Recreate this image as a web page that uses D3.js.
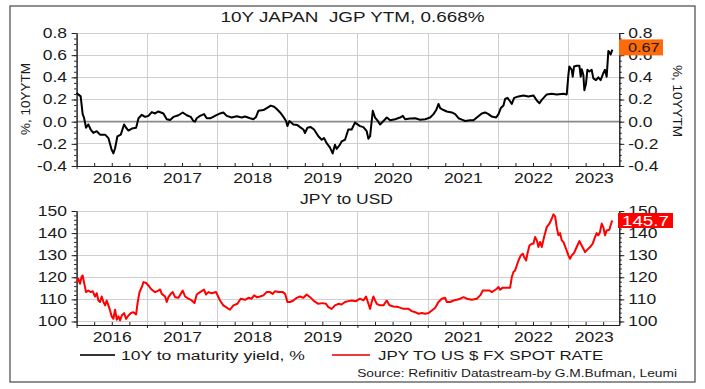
<!DOCTYPE html>
<html>
<head>
<meta charset="utf-8">
<script src="https://cdnjs.cloudflare.com/ajax/libs/d3/7.8.5/d3.min.js"></script>
<style>
  body { margin: 0; background: #fff; }
  svg { display: block; font-family: "Liberation Sans", Arial, sans-serif; }
</style>
</head>
<body>
<div id="chart"></div>
<script>
// dates are decimal years
const jgbDates = [
  2016.000, 2016.058, 2016.086, 2016.105, 2016.134, 2016.167, 2016.200, 2016.238, 2016.286, 2016.333,
  2016.405, 2016.452, 2016.499, 2016.523, 2016.547, 2016.580, 2016.628, 2016.675, 2016.704, 2016.737,
  2016.785, 2016.846, 2016.880, 2016.927, 2016.974, 2017.021, 2017.069, 2017.116, 2017.163, 2017.235,
  2017.282, 2017.330, 2017.377, 2017.449, 2017.510, 2017.567, 2017.624, 2017.662, 2017.686, 2017.709,
  2017.757, 2017.814, 2017.852, 2017.909, 2017.970, 2018.042, 2018.089, 2018.137, 2018.208, 2018.280,
  2018.351, 2018.398, 2018.470, 2018.517, 2018.555, 2018.588, 2018.660, 2018.708, 2018.765, 2018.812,
  2018.850, 2018.898, 2018.945, 2018.983, 2019.002, 2019.030, 2019.087, 2019.144, 2019.182, 2019.230,
  2019.253, 2019.287, 2019.334, 2019.382, 2019.443, 2019.491, 2019.524, 2019.562, 2019.609, 2019.647,
  2019.680, 2019.704, 2019.742, 2019.775, 2019.823, 2019.870, 2019.918, 2019.965, 2020.037, 2020.085,
  2020.132, 2020.156, 2020.180, 2020.203, 2020.218, 2020.251, 2020.284, 2020.322, 2020.370, 2020.417,
  2020.465, 2020.536, 2020.607, 2020.645, 2020.678, 2020.750, 2020.821, 2020.892, 2020.963, 2021.034,
  2021.082, 2021.120, 2021.153, 2021.177, 2021.224, 2021.272, 2021.343, 2021.391, 2021.438, 2021.486,
  2021.533, 2021.604, 2021.652, 2021.699, 2021.770, 2021.818, 2021.865, 2021.913, 2021.975, 2022.008,
  2022.041, 2022.079, 2022.103, 2022.136, 2022.165, 2022.198, 2022.231, 2022.293, 2022.364, 2022.435,
  2022.506, 2022.554, 2022.592, 2022.625, 2022.696, 2022.767, 2022.838, 2022.933, 2022.981, 2023.004,
  2023.018, 2023.052, 2023.066, 2023.085, 2023.123, 2023.161, 2023.180, 2023.194, 2023.218, 2023.232,
  2023.256, 2023.275, 2023.303, 2023.336, 2023.360, 2023.398, 2023.431, 2023.464, 2023.502, 2023.526,
  2023.550, 2023.574, 2023.588, 2023.607, 2023.631
];
const jgbYield = [
  0.258, 0.228, 0.068, 0.037, -0.055, -0.025, -0.071, -0.102, -0.086, -0.117,
  -0.117, -0.148, -0.255, -0.286, -0.240, -0.132, -0.117, -0.025, -0.055, -0.080,
  -0.062, -0.055, 0.031, 0.062, 0.043, 0.052, 0.086, 0.074, 0.092, 0.074,
  0.022, 0.015, 0.043, 0.058, 0.083, 0.058, 0.043, 0.006, 0.000, 0.031,
  0.052, 0.068, 0.031, 0.031, 0.052, 0.074, 0.083, 0.052, 0.037, 0.049,
  0.037, 0.046, 0.031, 0.022, 0.043, 0.098, 0.105, 0.123, 0.145, 0.135,
  0.114, 0.083, 0.043, 0.006, -0.040, 0.006, -0.025, -0.031, -0.049, -0.071,
  -0.102, -0.055, -0.049, -0.071, -0.132, -0.163, -0.148, -0.194, -0.234, -0.286,
  -0.209, -0.246, -0.215, -0.178, -0.163, -0.071, -0.071, -0.009, -0.040, -0.049,
  -0.086, -0.154, -0.132, 0.006, 0.098, 0.037, 0.012, -0.025, 0.006, 0.037,
  0.012, 0.022, 0.037, 0.052, 0.022, 0.028, 0.031, 0.018, 0.022, 0.037,
  0.068, 0.105, 0.160, 0.123, 0.105, 0.092, 0.083, 0.068, 0.031, 0.018,
  0.006, 0.012, 0.012, 0.037, 0.074, 0.083, 0.068, 0.046, 0.037, 0.068,
  0.123, 0.145, 0.206, 0.215, 0.191, 0.160, 0.215, 0.228, 0.237, 0.228,
  0.237, 0.191, 0.166, 0.197, 0.246, 0.252, 0.246, 0.252, 0.246, 0.420,
  0.498, 0.468, 0.406, 0.498, 0.505, 0.505, 0.406, 0.474, 0.420, 0.283,
  0.345, 0.468, 0.452, 0.468, 0.391, 0.375, 0.400, 0.375, 0.437, 0.468,
  0.406, 0.637, 0.628, 0.606, 0.650
];
const fxDates = [
  2016.000, 2016.025, 2016.048, 2016.072, 2016.086, 2016.105, 2016.134, 2016.167, 2016.200, 2016.229,
  2016.262, 2016.286, 2016.310, 2016.333, 2016.357, 2016.381, 2016.405, 2016.428, 2016.452, 2016.476,
  2016.499, 2016.523, 2016.547, 2016.571, 2016.594, 2016.618, 2016.642, 2016.675, 2016.704, 2016.737,
  2016.770, 2016.808, 2016.846, 2016.865, 2016.894, 2016.927, 2016.951, 2016.989, 2017.021, 2017.055,
  2017.084, 2017.116, 2017.163, 2017.188, 2017.211, 2017.259, 2017.282, 2017.306, 2017.340, 2017.368,
  2017.401, 2017.449, 2017.510, 2017.544, 2017.591, 2017.639, 2017.677, 2017.709, 2017.757, 2017.814,
  2017.842, 2017.875, 2017.923, 2017.985, 2018.042, 2018.089, 2018.127, 2018.184, 2018.232, 2018.289,
  2018.336, 2018.398, 2018.446, 2018.493, 2018.527, 2018.565, 2018.612, 2018.660, 2018.708, 2018.755,
  2018.793, 2018.827, 2018.874, 2018.936, 2018.969, 2019.002, 2019.040, 2019.087, 2019.135, 2019.182,
  2019.230, 2019.277, 2019.325, 2019.382, 2019.443, 2019.505, 2019.552, 2019.586, 2019.633, 2019.680,
  2019.728, 2019.775, 2019.823, 2019.870, 2019.918, 2019.980, 2020.037, 2020.085, 2020.123, 2020.156,
  2020.180, 2020.203, 2020.227, 2020.251, 2020.275, 2020.322, 2020.370, 2020.417, 2020.455, 2020.512,
  2020.583, 2020.655, 2020.726, 2020.773, 2020.821, 2020.868, 2020.916, 2020.963, 2021.011, 2021.058,
  2021.106, 2021.153, 2021.200, 2021.248, 2021.272, 2021.319, 2021.367, 2021.414, 2021.462, 2021.509,
  2021.557, 2021.628, 2021.699, 2021.747, 2021.785, 2021.832, 2021.880, 2021.913, 2021.946, 2021.984,
  2022.008, 2022.031, 2022.069, 2022.126, 2022.174, 2022.198, 2022.221, 2022.245, 2022.269, 2022.293,
  2022.326, 2022.354, 2022.373, 2022.402, 2022.421, 2022.449, 2022.482, 2022.506, 2022.530, 2022.554,
  2022.577, 2022.601, 2022.625, 2022.658, 2022.696, 2022.734, 2022.767, 2022.791, 2022.815, 2022.838,
  2022.862, 2022.886, 2022.910, 2022.933, 2022.971, 2023.004, 2023.028, 2023.052, 2023.085, 2023.123,
  2023.161, 2023.180, 2023.218, 2023.242, 2023.275, 2023.313, 2023.351, 2023.384, 2023.408, 2023.431,
  2023.455, 2023.479, 2023.502, 2023.526, 2023.550, 2023.588, 2023.621, 2023.631
];
const fxRate = [
  117.8, 119.3, 117.1, 120.4, 120.8, 117.8, 113.3, 114.0, 113.3, 113.7,
  111.3, 112.8, 109.5, 108.8, 111.3, 108.8, 107.3, 109.5, 107.3, 105.0,
  102.3, 101.2, 105.3, 100.8, 102.3, 100.5, 102.7, 103.8, 101.2, 102.7,
  103.8, 104.2, 103.2, 108.0, 113.3, 115.6, 117.8, 117.4, 116.3, 114.8,
  114.0, 113.3, 114.0, 114.5, 112.5, 111.3, 108.8, 111.0, 112.5, 113.3,
  111.0, 110.7, 114.0, 111.3, 110.3, 109.5, 108.3, 112.2, 113.3, 114.4,
  112.2, 113.3, 112.8, 113.3, 109.5, 107.3, 106.5, 105.3, 107.3, 108.0,
  110.3, 109.8, 110.7, 110.3, 111.8, 111.0, 111.3, 111.8, 113.3, 113.3,
  112.5, 113.7, 113.3, 113.3, 112.5, 108.8, 108.8, 109.5, 110.7, 111.3,
  110.7, 112.2, 111.0, 109.2, 108.0, 108.3, 108.0, 106.5, 105.7, 107.3,
  108.0, 107.7, 108.8, 109.2, 109.5, 109.2, 110.3, 109.5, 111.3, 108.0,
  105.7, 108.8, 111.3, 109.5, 108.0, 107.3, 107.3, 109.5, 107.3, 106.8,
  106.5, 105.7, 105.7, 104.7, 104.2, 103.5, 103.8, 103.5, 103.8, 105.0,
  106.2, 108.8, 110.3, 110.7, 108.8, 108.8, 109.5, 109.8, 110.3, 111.0,
  110.3, 109.8, 110.3, 111.8, 114.0, 114.0, 114.0, 113.3, 114.0, 114.8,
  115.6, 114.4, 115.3, 115.3, 115.3, 120.1, 122.4, 123.1, 125.4, 127.6,
  129.9, 130.7, 129.2, 127.6, 130.7, 134.4, 135.2, 135.2, 138.2, 136.7,
  133.7, 136.0, 133.7, 138.2, 142.7, 144.3, 146.5, 148.5, 147.6, 142.7,
  139.0, 140.0, 136.7, 136.0, 132.9, 129.9, 128.4, 129.9, 131.0, 133.7,
  136.4, 135.2, 132.9, 131.4, 132.5, 133.7, 135.2, 138.2, 140.0, 139.0,
  140.5, 144.3, 142.7, 139.0, 141.2, 141.5, 145.0, 145.7
];
const years = [2016, 2017, 2018, 2019, 2020, 2021, 2022, 2023];
const jgbTicks = [-0.4, -0.2, 0, 0.2, 0.4, 0.6, 0.8];
const fxTicks = [100, 110, 120, 130, 140, 150];
const xStart = 2016.0;
const xEnd = 2023.73;
const jgbLast = 0.67;
const fxLast = 145.7;

function toDate(y) {
  const yr = Math.floor(y);
  const a = new Date(yr, 0, 1), b = new Date(yr + 1, 0, 1);
  return new Date(+a + (y - yr) * (b - a));
}

const snap = (v) => Math.round(v) + 0.5;

function buildChart() {
  const width = 705, height = 389;
  const left = 76.6, right = 619.3;
  const top1 = 33, bottom1 = 166;
  const top2 = 211, bottom2 = 325;
  const k = 1.25; // the picture's text is a bit wide

  const svg = d3.select("#chart").append("svg")
    .attr("width", width)
    .attr("height", height);

  svg.append("rect").attr("width", width).attr("height", height).attr("fill", "#fff");

  // layers, back to front
  const gridLayer = svg.append("g");
  const axisLayer = svg.append("g");
  const seriesLayer = svg.append("g");
  const labelLayer = svg.append("g");

  // outer frame
  axisLayer.append("rect")
    .attr("x", 10).attr("y", 6)
    .attr("width", 685).attr("height", 376)
    .attr("fill", "none")
    .attr("stroke", "#555")
    .attr("stroke-width", 1.3);

  const x = d3.scaleTime().domain([toDate(xStart), toDate(xEnd)]).range([left, right]);
  const yTop = d3.scaleLinear().domain([-0.4, 0.8]).range([bottom1, top1]);
  const yBot = d3.scaleLinear().domain([98.4, 150]).range([bottom2, top2]);

  function addText(g, px, py, txt, size, anchor, stretch, fill) {
    return g.append("text")
      .attr("transform", `translate(${px},${py}) scale(${stretch},1)`)
      .attr("text-anchor", anchor)
      .attr("font-size", size)
      .attr("fill", fill || "#1a1a1a")
      .text(txt);
  }

  // light grid: one path per panel, each segment on a whole pixel
  function grid(y, ticks, yTopPx, yBottomPx, zeroLine) {
    const path = d3.path();
    years.slice(1).forEach((yr) => {
      const px = snap(x(toDate(yr)));
      path.moveTo(px, yTopPx);
      path.lineTo(px, yBottomPx);
    });
    ticks
      .filter((d) => y(d) < yBottomPx - 1 && !(zeroLine && d === 0))
      .forEach((d) => {
        const py = snap(y(d) - 0.5);
        path.moveTo(Math.round(left), py);
        path.lineTo(Math.round(right), py);
      });
    gridLayer.append("path")
      .attr("d", path.toString())
      .attr("fill", "none")
      .attr("stroke", "#cfcfcf")
      .attr("stroke-width", 1)
      .attr("shape-rendering", "crispEdges");
    if (zeroLine) {
      gridLayer.append("line")
        .attr("x1", left).attr("x2", right)
        .attr("y1", y(0)).attr("y2", y(0))
        .attr("stroke", "#8a8a8a").attr("stroke-width", 1.6);
    }
  }

  function axes(y, ticks, minorStep, fmt, yBottomPx) {
    const g = axisLayer.append("g");

    // minor ticks on both y axes
    const lo = ticks[0], hi = ticks[ticks.length - 1];
    const minor = d3.range(lo, hi + minorStep / 2, minorStep);
    g.append("g").attr("transform", `translate(${left},0)`)
      .call(d3.axisLeft(y).tickValues(minor).tickSize(2.5).tickSizeOuter(0).tickFormat(""));
    g.append("g").attr("transform", `translate(${right},0)`)
      .call(d3.axisRight(y).tickValues(minor).tickSize(2.5).tickSizeOuter(0).tickFormat(""));

    // major ticks + labels
    const la = g.append("g").attr("transform", `translate(${left},0)`)
      .call(d3.axisLeft(y).tickValues(ticks).tickSize(5).tickSizeOuter(0).tickFormat(fmt));
    la.selectAll("text").attr("x", -9.6 / k).attr("transform", `scale(${k},1)`);
    const ra = g.append("g").attr("transform", `translate(${right},0)`)
      .call(d3.axisRight(y).tickValues(ticks).tickSize(5).tickSizeOuter(0).tickFormat(fmt));
    ra.selectAll("text").attr("x", 9 / k).attr("transform", `scale(${k},1)`);

    // x axis: quarter ticks up, year ticks down
    const quarters = [];
    years.forEach((yr) => [0.25, 0.5, 0.75].forEach((q) => {
      if (yr + q < xEnd) quarters.push(toDate(yr + q));
    }));
    g.append("g").attr("transform", `translate(0,${yBottomPx})`)
      .call(d3.axisBottom(x).tickValues(quarters).tickSize(-3).tickSizeOuter(0).tickFormat(""));
    g.append("g").attr("transform", `translate(0,${yBottomPx})`)
      .call(d3.axisBottom(x).tickValues(years.map(toDate)).tickSize(3).tickSizeOuter(0).tickFormat(""));

    // year labels centred in the visible part of each year
    const mids = years.map((yr) => toDate((Math.max(yr, xStart) + Math.min(yr + 1, xEnd)) / 2));
    const xa = g.append("g").attr("transform", `translate(0,${yBottomPx})`)
      .call(d3.axisBottom(x).tickValues(mids).tickSize(0).tickFormat((d) => d.getFullYear()));
    xa.select(".domain").remove();
    xa.selectAll("text").attr("y", 17.4).attr("dy", 0).attr("transform", `scale(${k},1)`);

    g.selectAll(".tick text")
      .attr("font-size", 14)
      .attr("font-family", "Liberation Sans, Arial, sans-serif")
      .attr("fill", "#1a1a1a");
    g.selectAll(".domain, .tick line").attr("stroke", "#222");
  }

  const fmt1 = (d) => d.toFixed(1);
  const fmt0 = (d) => d.toFixed(0);

  grid(yTop, jgbTicks, top1, bottom1, true);
  grid(yBot, fxTicks, top2, bottom2, false);
  axes(yTop, jgbTicks, 0.05, fmt1, bottom1);
  axes(yBot, fxTicks, 2, fmt0, bottom2);

  // series
  const jgb = jgbDates.map((d, i) => ({ date: toDate(d), value: jgbYield[i] }));
  const fx = fxDates.map((d, i) => ({ date: toDate(d), value: fxRate[i] }));

  seriesLayer.append("path")
    .datum(jgb)
    .attr("fill", "none")
    .attr("stroke", "#000")
    .attr("stroke-width", 2)
    .attr("stroke-linejoin", "round")
    .attr("d", d3.line().x((d) => x(d.date)).y((d) => yTop(d.value)));

  seriesLayer.append("path")
    .datum(fx)
    .attr("fill", "none")
    .attr("stroke", "#ff0000")
    .attr("stroke-width", 2)
    .attr("stroke-linejoin", "round")
    .attr("d", d3.line().x((d) => x(d.date)).y((d) => yBot(d.value)));

  // last value boxes
  const jy = yTop(jgbLast);
  labelLayer.append("rect").attr("x", 619).attr("y", jy - 8).attr("width", 44).attr("height", 16).attr("fill", "#ff6a0a");
  addText(labelLayer, 628, jy + 5, jgbLast.toFixed(2), 13, "start", k, "#1a1a1a");
  const fy = yBot(fxLast);
  labelLayer.append("rect").attr("x", 618).attr("y", fy - 7.5).attr("width", 55).attr("height", 15).attr("fill", "#ff0000");
  addText(labelLayer, 622, fy + 5.5, fxLast.toFixed(1), 15, "start", k, "#fff");

  // titles
  addText(labelLayer, 352.5, 21.7, "10Y JAPAN  JGP YTM, 0.668%", 15, "middle", 1.26).style("white-space", "pre");
  addText(labelLayer, 346.5, 204, "JPY to USD", 14, "middle", k);

  labelLayer.append("text")
    .attr("transform", "translate(30,99) rotate(-90)")
    .attr("text-anchor", "middle").attr("font-size", 13.5).attr("fill", "#1a1a1a")
    .text("%, 10YYTM");
  labelLayer.append("text")
    .attr("transform", "translate(673,101) rotate(90)")
    .attr("text-anchor", "middle").attr("font-size", 13.5).attr("fill", "#1a1a1a")
    .text("%, 10YYTM");

  // legend
  labelLayer.append("line").attr("x1", 80).attr("x2", 115).attr("y1", 355).attr("y2", 355)
    .attr("stroke", "#333").attr("stroke-width", 2);
  addText(labelLayer, 121, 360, "10Y to maturity yield, %", 13.5, "start", 1.3);
  labelLayer.append("line").attr("x1", 332).attr("x2", 370).attr("y1", 355).attr("y2", 355)
    .attr("stroke", "#f03a3a").attr("stroke-width", 2);
  addText(labelLayer, 378, 360, "JPY TO US $ FX SPOT RATE", 13.5, "start", k);

  addText(labelLayer, 677, 377, "Source: Refinitiv Datastream-by G.M.Bufman, Leumi", 11, "end", k);
}

window.onload = buildChart;
</script>
</body>
</html>
